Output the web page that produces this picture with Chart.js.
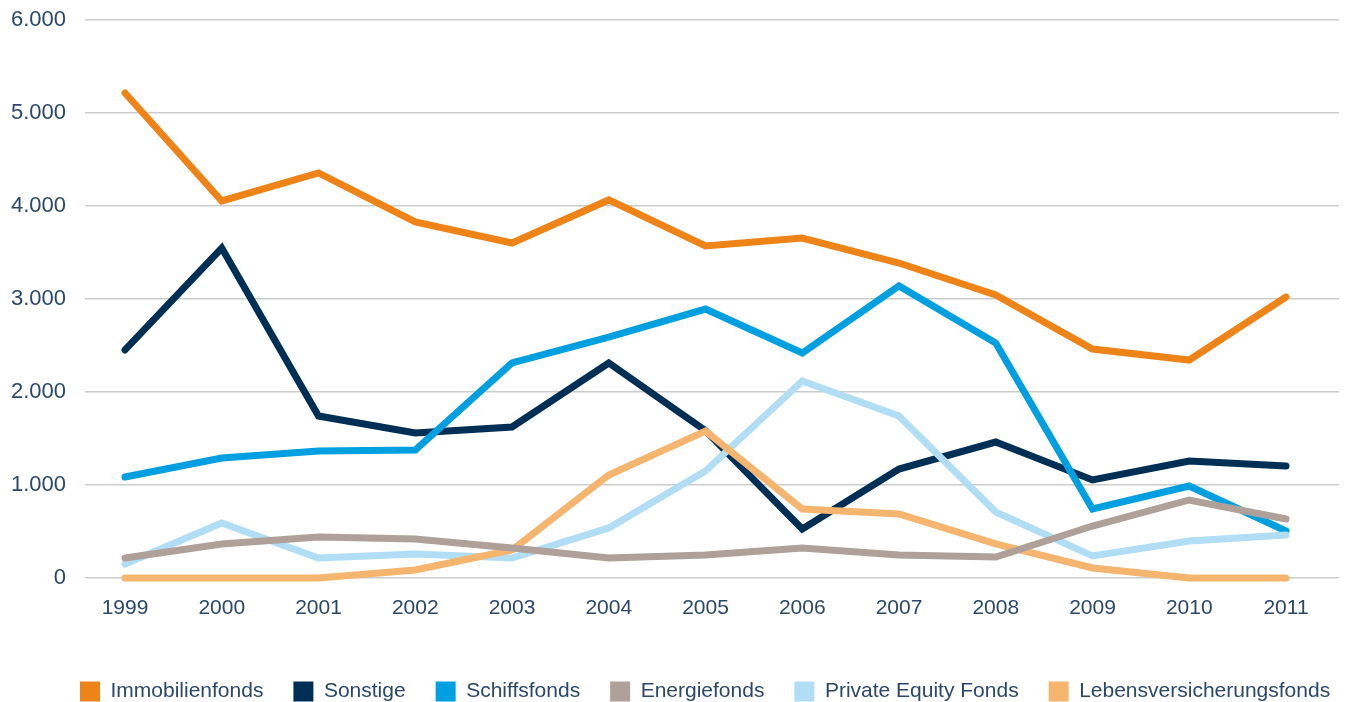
<!DOCTYPE html>
<html>
<head>
<meta charset="utf-8">
<script src="https://cdn.jsdelivr.net/npm/chart.js@4"></script>
<style>
  html, body { margin: 0; padding: 0; background: #fff; }
  #wrap { width: 1353px; height: 702px; }
</style>
</head>
<body>
<div id="wrap"><canvas id="fondsChart"></canvas></div>
<script>
const years = [1999, 2000, 2001, 2002, 2003, 2004, 2005, 2006, 2007, 2008, 2009, 2010, 2011];

const immobilienfonds = [5215, 4054, 4355, 3828, 3602, 4065, 3570, 3656, 3387, 3043, 2462, 2344, 3022];
const sonstige = [2452, 3548, 1742, 1559, 1624, 2312, 1585, 527, 1172, 1462, 1054, 1258, 1204];
const schiffsfonds = [1086, 1290, 1366, 1376, 2312, 2591, 2892, 2419, 3140, 2527, 742, 989, 505];
const energiefonds = [215, 366, 441, 419, 323, 215, 247, 323, 247, 226, 559, 839, 634];
const privateEquity = [150, 591, 215, 258, 215, 538, 1150, 2118, 1742, 710, 237, 398, 462];
const lebensversicherung = [0, 0, 0, 86, 301, 1108, 1581, 742, 688, 366, 108, 0, 0];

const yTicks = [0, 1000, 2000, 3000, 4000, 5000, 6000];

const textColor = '#2b486a';
const fontFamily = 'Liberation Sans, Arial, sans-serif';

// pair each value with its year for the linear x scale
function toPoints(values) {
  return values.map((v, i) => ({ x: years[i], y: v }));
}

// order: lower numbers are drawn on top
function series(label, values, color, order) {
  return {
    label,
    data: toPoints(values),
    order,
    borderColor: color,
    backgroundColor: color,
    borderWidth: 7,
    borderCapStyle: 'round',
    borderJoinStyle: 'miter',
    pointRadius: 0,
    pointHoverRadius: 0,
    tension: 0,
    clip: false,
    fill: false
  };
}

// legend row starts further right than Chart.js would put it
const legendShift = {
  id: 'legendShift',
  afterLayout(chart) {
    const lg = chart.legend;
    if (!lg) return;
    const dx = 80 - (lg.left + lg.options.labels.padding);
    lg.left += dx;
    lg.right += dx;
  }
};

const ctx = document.getElementById('fondsChart').getContext('2d');

new Chart(ctx, {
  type: 'line',
  data: {
    datasets: [
      series('Immobilienfonds', immobilienfonds, '#ee8418', 5),
      series('Sonstige', sonstige, '#002f56', 4),
      series('Schiffsfonds', schiffsfonds, '#009fe0', 3),
      series('Energiefonds', energiefonds, '#afa199', 0),
      series('Private Equity Fonds', privateEquity, '#b1def4', 2),
      series('Lebensversicherungsfonds', lebensversicherung, '#f6b56f', 1)
    ]
  },
  plugins: [legendShift],
  options: {
    responsive: true,
    maintainAspectRatio: false,
    animation: false,
    layout: { padding: { top: 20, right: 14, left: 11, bottom: -10 } },
    plugins: {
      tooltip: { enabled: false },
      legend: {
        position: 'bottom',
        align: 'start',
        labels: {
          boxWidth: 20,
          boxHeight: 20,
          padding: 30,
          color: textColor,
          font: { family: fontFamily, size: 21 },
          sort: (a, b) => a.datasetIndex - b.datasetIndex,
          // flat boxes without the thick line stroke
          generateLabels: (chart) => {
            const items = Chart.defaults.plugins.legend.labels.generateLabels(chart);
            items.forEach(it => { it.lineWidth = 0; it.strokeStyle = 'rgba(0,0,0,0)'; });
            return items;
          }
        }
      }
    },
    scales: {
      x: {
        type: 'linear',
        min: 1998.587,
        max: 2011.548,
        afterBuildTicks: (scale) => { scale.ticks = years.map(v => ({ value: v })); },
        afterFit: (scale) => { scale.height = 73; },
        grid: { display: false, drawTicks: false },
        border: { display: false },
        ticks: {
          color: textColor,
          padding: 18,
          font: { family: fontFamily, size: 21 },
          callback: (v) => String(v)
        }
      },
      y: {
        min: 0,
        max: 6000,
        afterBuildTicks: (scale) => { scale.ticks = yTicks.map(v => ({ value: v })); },
        // invisible tick marks keep the gap between labels and grid
        grid: { color: '#cccccc', lineWidth: 1.5, drawTicks: true, tickLength: 19, tickColor: 'rgba(0,0,0,0)' },
        border: { display: false },
        ticks: {
          color: textColor,
          padding: 0,
          font: { family: fontFamily, size: 22 },
          callback: (v) => v.toLocaleString('de-DE')
        }
      }
    }
  }
});
</script>
</body>
</html>
